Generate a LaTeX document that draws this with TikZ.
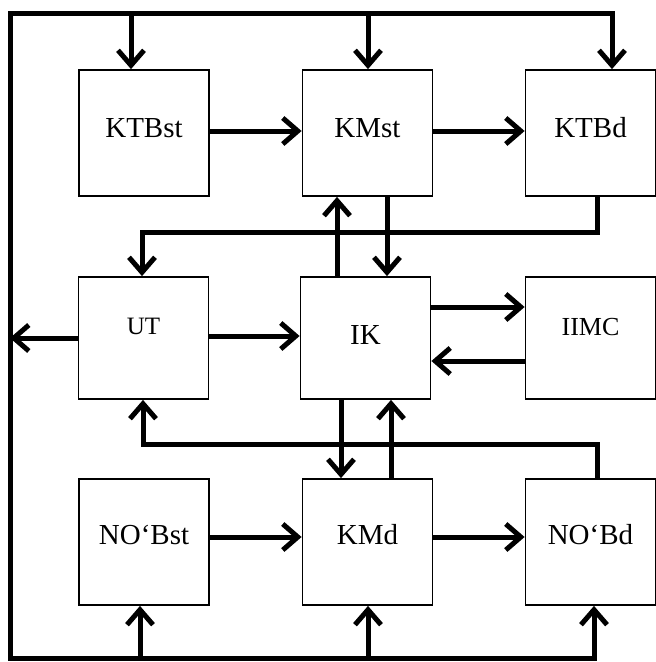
\documentclass[tikz,border=0pt]{standalone}
\usepackage{fontspec}
\setmainfont{Liberation Serif}
\usetikzlibrary{arrows.meta}
\begin{document}
\begin{tikzpicture}[x=1pt,y=-1pt,
  block/.style={draw, line width=1.8pt, minimum width=130pt, minimum height=126pt,
    inner sep=0pt, font=\fontsize{29}{30}\selectfont, text height=20pt, text depth=11pt},
  smalltext/.style={font=\fontsize{25}{26}\selectfont, text height=17pt, text depth=24pt},
  midtext/.style={font=\fontsize{26}{27}\selectfont, text height=18pt, text depth=24pt},
  tip/.tip={Straight Barb[length=15pt,width=26pt]},
  wire/.style={line width=5pt, line join=miter},
  flow/.style={wire, -tip}
]
\useasboundingbox (0,0) rectangle (656,662);

% blocks
\node[block] (ktbst) at (144,133) {KTBst};
\node[block] (kmst)  at (367.5,133) {KMst};
\node[block] (ktbd)  at (590.5,133) {KTBd};
\node[block, minimum height=122pt, smalltext] (ut) at (143.5,338) {UT};
\node[block, minimum height=122pt, text depth=6.8pt] (ik) at (365.5,338) {IK};
\node[block, minimum height=122pt, midtext] (iimc) at (590.5,338) {IIMC};
\node[block, text depth=14.8pt] (nobst) at (144,542) {NO‘Bst};
\node[block, text depth=14.8pt] (kmd)   at (367.5,542) {KMd};
\node[block, text depth=14.8pt] (nobd)  at (590.5,542) {NO‘Bd};

% feedback loop around the diagram
\coordinate (cTL) at (10,13);
\coordinate (cBL) at (10,658);
\coordinate (t1) at (131,13);
\coordinate (t2) at (368,13);
\coordinate (b1) at (140,658);
\coordinate (b2) at (368,658);
\coordinate (l1) at (10,338);
\draw[wire, tip-tip] (nobd.south -| 594,0) -- (594,658) -- (cBL) -- (cTL)
  -- (612,13) -- (ktbd.north -| 612,0);
\draw[flow] (t1) -- (ktbst.north -| t1);
\draw[flow] (t2) -- (kmst.north -| t2);
\draw[flow] (b1) -- (nobst.south -| b1);
\draw[flow] (b2) -- (kmd.south -| b2);
\draw[flow] (ut.west |- 0,338) -- (l1);

% top row
\draw[flow] (ktbst.east |- 0,131) -- (kmst.west |- 0,131);
\draw[flow] (kmst.east |- 0,131) -- (ktbd.west |- 0,131);

% middle row
\draw[flow] (ut.east |- 0,336) -- (ik.west |- 0,336);
\draw[flow] (ik.east |- 0,307) -- (iimc.west |- 0,307);
\draw[flow] (iimc.west |- 0,361) -- (ik.east |- 0,361);

% bottom row
\draw[flow] (nobst.east |- 0,537) -- (kmd.west |- 0,537);
\draw[flow] (kmd.east |- 0,537) -- (nobd.west |- 0,537);

% vertical links around IK
\draw[flow] (ik.north -| 337,0) -- (kmst.south -| 337,0);
\draw[flow] (kmst.south -| 387,0) -- (ik.north -| 387,0);
\draw[flow] (ik.south -| 341,0) -- (kmd.north -| 341,0);
\draw[flow] (kmd.north -| 391,0) -- (ik.south -| 391,0);

% links into UT
\draw[flow] (ktbd.south -| 597,0) |- (142,232) -- (ut.north -| 142,0);
\draw[flow] (nobd.north -| 597,0) |- (143,444) -- (ut.south -| 143,0);
\end{tikzpicture}
\end{document}
